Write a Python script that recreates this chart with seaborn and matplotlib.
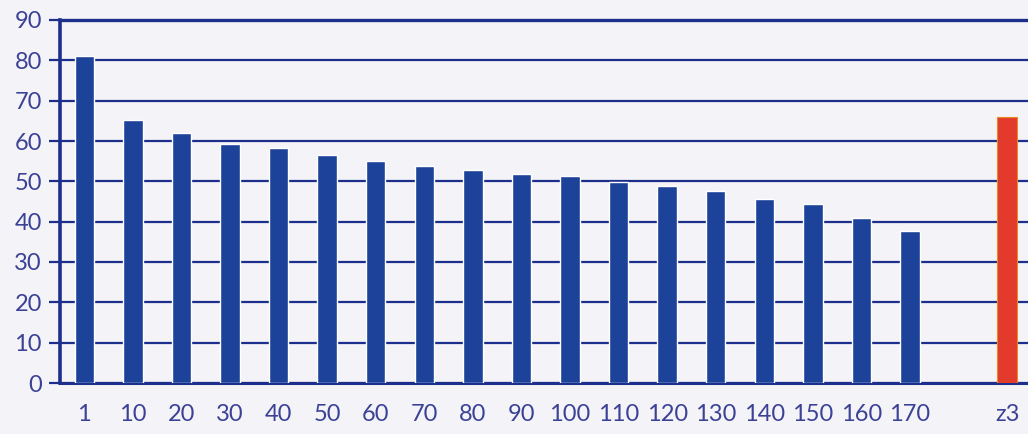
import matplotlib
matplotlib.use("Agg")
import matplotlib.pyplot as plt
import numpy as np
import pandas as pd
import seaborn as sns

# values
categories = ["1", "10", "20", "30", "40", "50", "60", "70", "80", "90",
              "100", "110", "120", "130", "140", "150", "160", "170", "z3"]
values = [81, 65.2, 62.1, 59.3, 58.3, 56.5, 55.1, 53.8, 52.8, 51.8,
          51.2, 49.9, 48.8, 47.7, 45.7, 44.4, 41.0, 37.7, 66.0]
groups = ["base"] * 18 + ["z3"]
# an empty slot sits between 170 and z3
order = categories[:18] + [""] + ["z3"]

BLUE = "#1d4299"
RED = "#e23b2b"
LINE = "#1c2f8c"
TEXT = "#3b4296"
BG = "#f4f3f7"

df = pd.DataFrame({"cat": categories, "val": values, "grp": groups})

sns.set_style("white")
plt.rcParams["font.family"] = ["Lato", "DejaVu Sans"]

fig = plt.figure(figsize=(10.28, 4.34), dpi=100, facecolor=BG)
ax = fig.add_axes([60 / 1028, 51 / 434, 971.5 / 1028, 363 / 434])
ax.set_facecolor(BG)

sns.barplot(data=df, x="cat", y="val", hue="grp", order=order,
            palette={"base": BLUE, "z3": RED}, width=0.4, legend=False,
            saturation=1, ax=ax, zorder=3)
for p in ax.patches:
    if p.get_facecolor()[0] > 0.5:
        p.set_edgecolor("#e8892a")
        p.set_linewidth(0.8)

ax.set_ylim(0, 90)
ax.set_xlim(-0.5, len(order) - 0.5)
ax.set_yticks(np.arange(0, 91, 10))
ax.yaxis.grid(True, color=LINE, linewidth=1.6, zorder=1)
ax.set_axisbelow(True)

ax.set_xticks(range(len(order)))
ax.set_xticklabels(order)
ax.set_xticks(np.arange(-0.5, len(order), 1), minor=True)
ax.tick_params(axis="x", which="major", length=0, pad=15,
               labelsize=17, labelcolor=TEXT)
ax.tick_params(axis="x", which="minor", length=7, width=2, color=LINE,
               direction="out")
ax.tick_params(axis="y", length=8, width=1.6, color=LINE, pad=5,
               labelsize=17, labelcolor=TEXT, left=True)

ax.set_xlabel("")
ax.set_ylabel("")
ax.spines["right"].set_visible(False)
ax.spines["top"].set_color(LINE)
ax.spines["top"].set_linewidth(2.4)
ax.spines["left"].set_color(LINE)
ax.spines["left"].set_linewidth(2.6)
ax.spines["bottom"].set_color(LINE)
ax.spines["bottom"].set_linewidth(2.2)

fig.savefig("out.png", dpi=100, facecolor=BG)
